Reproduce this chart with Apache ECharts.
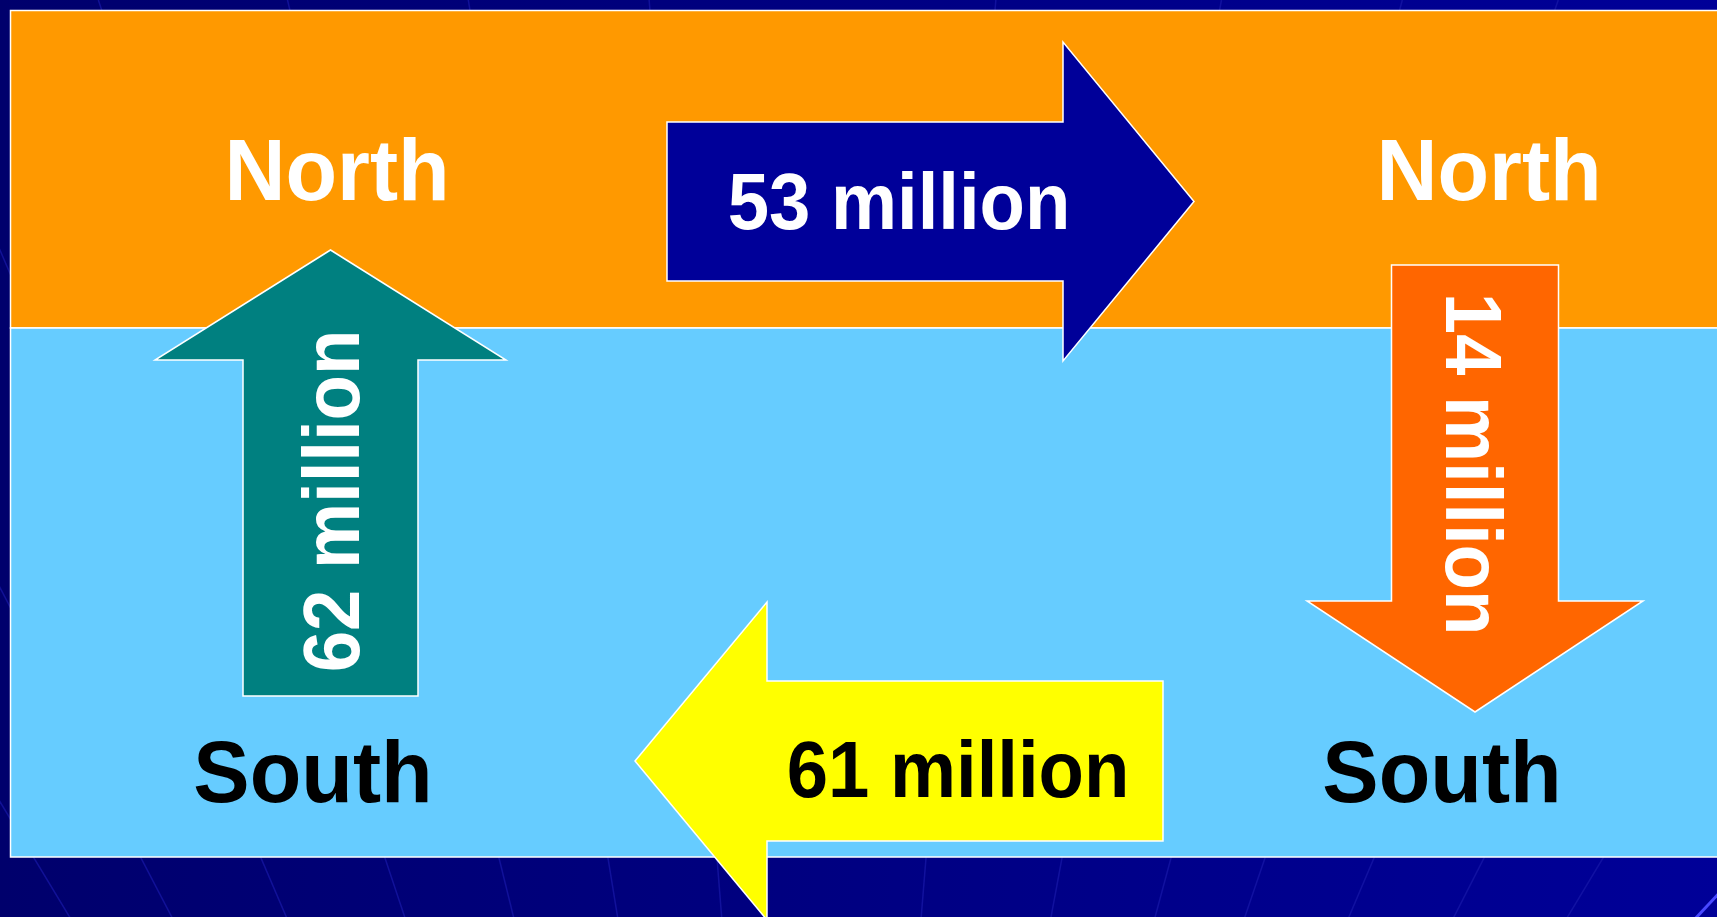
<!DOCTYPE html>
<html>
<head>
<meta charset="utf-8">
<title>North / South flows</title>
<script src="https://cdn.jsdelivr.net/npm/echarts@6/dist/echarts.min.js"></script>
<style>
  html, body { margin: 0; padding: 0; background: #000070; overflow: hidden; }
  #chart { width: 1717px; height: 917px; }
</style>
</head>
<body>
<div id="chart"></div>
<script>
// Regions and the four flows between them (values in millions)
const regionNames = ['North', 'South'];
const flowValues = [53, 62, 61, 14];
const flowFrom = ['North', 'South', 'South', 'North'];
const flowTo = ['North', 'North', 'South', 'South'];
const flowUnit = 'million';

// Layout in diagram units (one unit = one pixel of the 1717x917 canvas)
const W = 1717, H = 917;
const bandLeft = 10.5;
const bandLayout = {
  North: { top: 10.5, bottom: 328, fill: '#FF9900', text: '#FFFFFF', labelY: 170, labelX: [337, 1489] },
  South: { top: 328, bottom: 857, fill: '#66CCFF', text: '#000000', labelY: 772, labelX: [313, 1442] }
};
const arrowLayout = [
  { dir: 'right', tail: 667, base: 1063, tip: 1194, mid: 201.5, shaft: 79.5, head: 159.5, fill: '#000099', text: '#FFFFFF', label: [899, 202] },
  { dir: 'up', tail: 696, base: 360, tip: 250, mid: 330.5, shaft: 87.5, head: 175.5, fill: '#008080', text: '#FFFFFF', label: [332, 501] },
  { dir: 'left', tail: 1163, base: 767, tip: 635, mid: 761, shaft: 80, head: 159, fill: '#FFFF00', text: '#000000', label: [958, 770] },
  { dir: 'down', tail: 265, base: 601, tip: 712, mid: 1475, shaft: 83.5, head: 168, fill: '#FF6600', text: '#FFFFFF', label: [1473.5, 464] }
];

const FONT = '"Liberation Sans", Arial, sans-serif';
const NAME_SIZE = 88;
const NAME_SQUEEZE = 0.96;
const FLOW_SIZE = 79;
const FLOW_SQUEEZE = 0.94;
// shift from em-middle to cap-middle, in em
const CAP_SHIFT = 0.07;

// Faint background fan lines (template decoration)
const fanOrigin = [820, 2160];
const fanCrossX = [34, 141, 261, 385, 499, 608, 717, 926, 1062, 1171, 1265, 1374, 1484, 1603];
const fanCrossY = 858;

function fanLines() {
  return fanCrossX.map(x => {
    const dx = x - fanOrigin[0];
    const dy = fanCrossY - fanOrigin[1];
    const t = (0 - fanOrigin[1]) / dy;
    return {
      type: 'line',
      z: -5,
      silent: true,
      shape: { x1: fanOrigin[0], y1: fanOrigin[1], x2: fanOrigin[0] + dx * t, y2: 0 },
      style: { stroke: '#1818A8', lineWidth: 1.5, opacity: 0.7 }
    };
  });
}

// text element centred on the cap height, rotated about its centre
function capText(c, text, size, squeeze, fill, rotation) {
  const s = CAP_SHIFT * size;
  // local "down" direction after rotation
  const off = [Math.sin(rotation) * s, Math.cos(rotation) * s];
  return {
    type: 'text',
    x: c[0] + off[0], y: c[1] + off[1],
    rotation,
    scaleX: squeeze,
    z2: 50,
    style: {
      text, fill,
      fontFamily: FONT, fontWeight: 'bold', fontSize: size,
      align: 'center', verticalAlign: 'middle'
    }
  };
}

function renderBand(params, api) {
  const name = regionNames[api.value(0)];
  const b = bandLayout[name];
  const p0 = api.coord([bandLeft, b.top]);
  const p1 = api.coord([W + 10, b.bottom]);
  const children = [{
    type: 'rect',
    shape: { x: p0[0], y: p0[1], width: p1[0] - p0[0], height: p1[1] - p0[1] },
    style: { fill: b.fill, stroke: '#FFFFFF', lineWidth: 1.5 }
  }];
  b.labelX.forEach(x => {
    children.push(capText(api.coord([x, b.labelY]), name, NAME_SIZE, NAME_SQUEEZE, b.text, 0));
  });
  return { type: 'group', children };
}

function renderArrow(params, api) {
  const i = api.value(0);
  const a = arrowLayout[i];
  const horiz = a.dir === 'left' || a.dir === 'right';
  const pt = (along, cross) => api.coord(horiz ? [along, cross] : [cross, along]);
  const points = [
    pt(a.tail, a.mid - a.shaft), pt(a.base, a.mid - a.shaft), pt(a.base, a.mid - a.head),
    pt(a.tip, a.mid),
    pt(a.base, a.mid + a.head), pt(a.base, a.mid + a.shaft), pt(a.tail, a.mid + a.shaft)
  ];
  const rotation = a.dir === 'up' ? Math.PI / 2 : a.dir === 'down' ? -Math.PI / 2 : 0;
  return {
    type: 'group',
    children: [
      {
        type: 'polygon',
        shape: { points },
        style: { fill: a.fill, stroke: '#FFFFFF', lineWidth: 1.5, lineJoin: 'miter' }
      },
      capText(api.coord(a.label), api.value(1) + ' ' + flowUnit, FLOW_SIZE, FLOW_SQUEEZE, a.text, rotation)
    ]
  };
}

const chart = echarts.init(document.getElementById('chart'));
chart.setOption({
  animation: false,
  backgroundColor: '#000070',
  graphic: [
    {
      type: 'rect', z: -10, silent: true,
      shape: { x: 0, y: 0, width: W, height: H },
      style: {
        fill: new echarts.graphic.LinearGradient(0, 0, 1, 0, [
          { offset: 0, color: '#00006C' },
          { offset: 1, color: '#000098' }
        ])
      }
    },
    ...fanLines(),
    {
      type: 'line', z: -4, silent: true,
      shape: { x1: 1694, y1: 920, x2: 1722, y2: 890 },
      style: { stroke: '#4848FF', lineWidth: 3 }
    }
  ],
  grid: { left: 0, right: 0, top: 0, bottom: 0 },
  xAxis: { type: 'value', min: 0, max: W, show: false },
  yAxis: { type: 'value', min: 0, max: H, inverse: true, show: false },
  tooltip: { show: false },
  series: [
    {
      type: 'custom',
      name: 'regions',
      z: 2,
      silent: true,
      renderItem: renderBand,
      data: regionNames.map((n, i) => [i])
    },
    {
      type: 'custom',
      name: 'flows',
      z: 3,
      silent: true,
      renderItem: renderArrow,
      data: flowValues.map((v, i) => [i, v, flowFrom[i], flowTo[i]])
    }
  ]
});
</script>
</body>
</html>
